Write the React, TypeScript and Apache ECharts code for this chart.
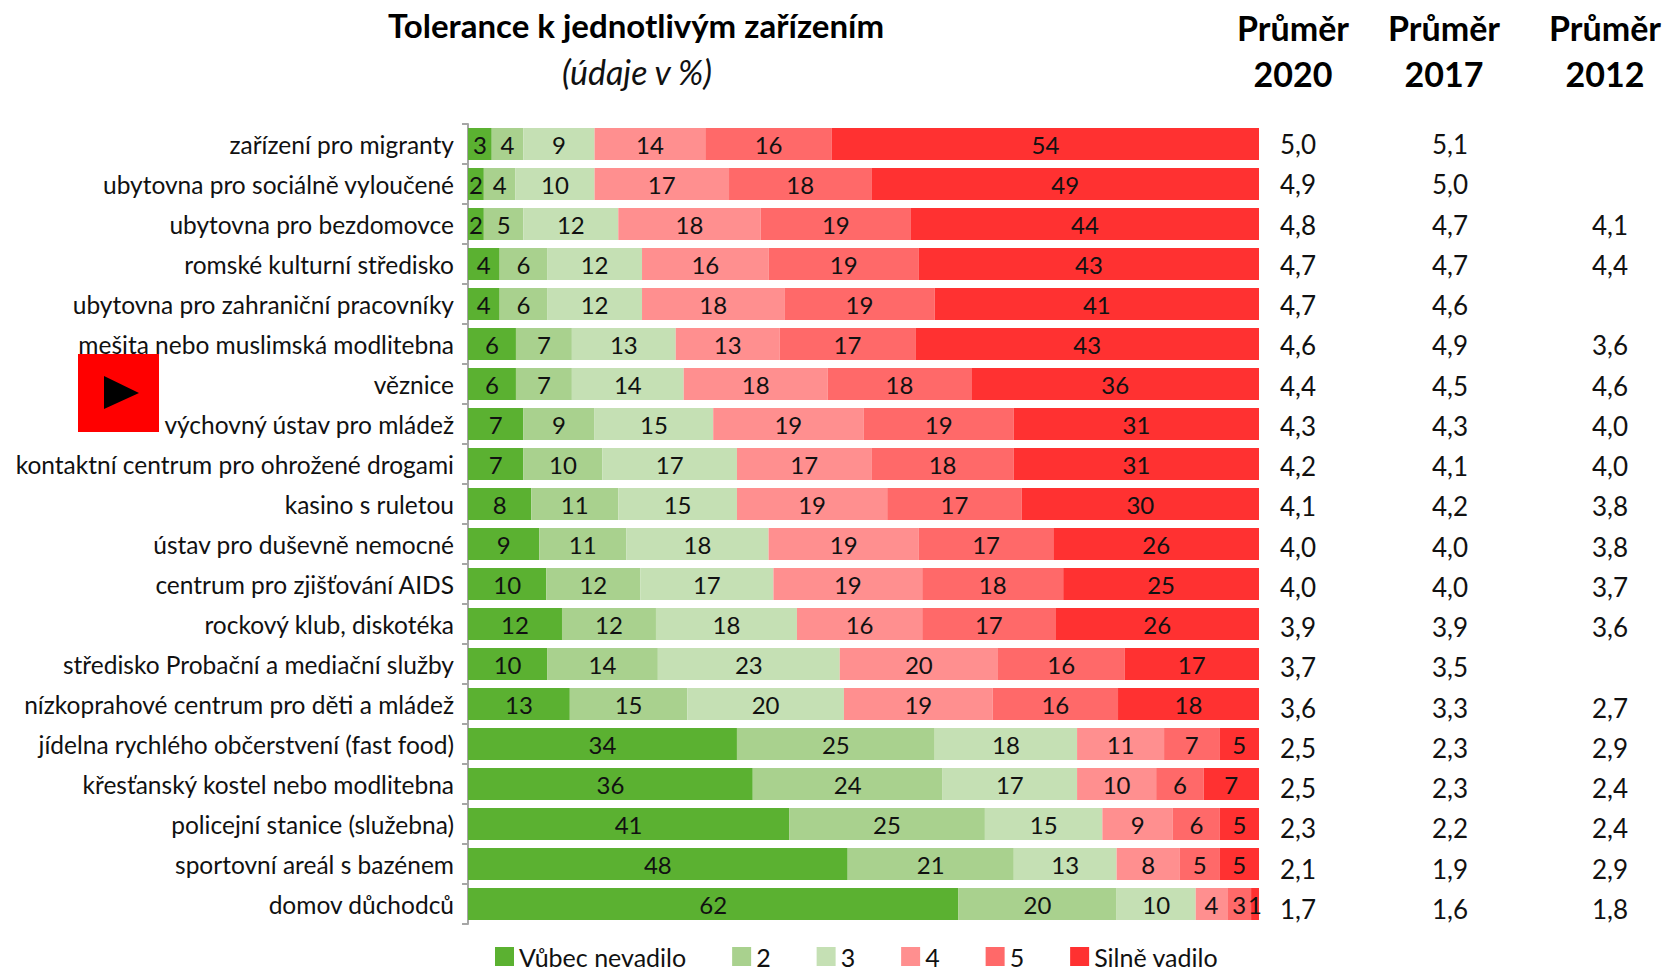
import React, { useEffect, useRef } from "react";
import * as echarts from "echarts";

const FONT = "Lato";

const categories = [
  "zařízení pro migranty",
  "ubytovna pro sociálně vyloučené",
  "ubytovna pro bezdomovce",
  "romské kulturní středisko",
  "ubytovna pro zahraniční pracovníky",
  "mešita nebo muslimská modlitebna",
  "věznice",
  "výchovný ústav pro mládež",
  "kontaktní centrum pro ohrožené drogami",
  "kasino s ruletou",
  "ústav pro duševně nemocné",
  "centrum pro zjišťování AIDS",
  "rockový klub, diskotéka",
  "středisko Probační a mediační služby",
  "nízkoprahové centrum pro děti a mládež",
  "jídelna rychlého občerstvení (fast food)",
  "křesťanský kostel nebo modlitebna",
  "policejní stanice (služebna)",
  "sportovní areál s bazénem",
  "domov důchodců",
];

const seriesNames = ["Vůbec nevadilo", "2", "3", "4", "5", "Silně vadilo"];
const seriesColors = ["#5BB131", "#A9D18E", "#C5E0B4", "#FF8F8F", "#FF6969", "#FF3131"];

const level1 = [3, 2, 2, 4, 4, 6, 6, 7, 7, 8, 9, 10, 12, 10, 13, 34, 36, 41, 48, 62];
const level2 = [4, 4, 5, 6, 6, 7, 7, 9, 10, 11, 11, 12, 12, 14, 15, 25, 24, 25, 21, 20];
const level3 = [9, 10, 12, 12, 12, 13, 14, 15, 17, 15, 18, 17, 18, 23, 20, 18, 17, 15, 13, 10];
const level4 = [14, 17, 18, 16, 18, 13, 18, 19, 17, 19, 19, 19, 16, 20, 19, 11, 10, 9, 8, 4];
const level5 = [16, 18, 19, 19, 19, 17, 18, 19, 18, 17, 17, 18, 17, 16, 16, 7, 6, 6, 5, 3];
const level6 = [54, 49, 44, 43, 41, 43, 36, 31, 31, 30, 26, 25, 26, 17, 18, 5, 7, 5, 5, 1];
const levels = [level1, level2, level3, level4, level5, level6];

const mean2020 = [5.0, 4.9, 4.8, 4.7, 4.7, 4.6, 4.4, 4.3, 4.2, 4.1, 4.0, 4.0, 3.9, 3.7, 3.6, 2.5, 2.5, 2.3, 2.1, 1.7];
const mean2017 = [5.1, 5.0, 4.7, 4.7, 4.6, 4.9, 4.5, 4.3, 4.1, 4.2, 4.0, 4.0, 3.9, 3.5, 3.3, 2.3, 2.3, 2.2, 1.9, 1.6];
const mean2012 = [null, null, 4.1, 4.4, null, 3.6, 4.6, 4.0, 4.0, 3.8, 3.8, 3.7, 3.6, null, 2.7, 2.9, 2.4, 2.4, 2.9, 1.8];

const fmt = (v: number | null) => (v == null ? "" : v.toFixed(1).replace(".", ","));
const rowTotal = (i: number) => levels.reduce((s, l) => s + l[i], 0);

const headerStyle = { fontFamily: FONT, fontWeight: "bold" as const, fontSize: 34, color: "#000" };

function headerTitles() {
  const cols = [
    { x: 1288, year: "2020" },
    { x: 1439, year: "2017" },
    { x: 1600, year: "2012" },
  ];
  return cols.flatMap((c) => [
    { text: "Průměr", left: c.x, top: 5, textAlign: "center", textStyle: headerStyle },
    { text: c.year, left: c.x, top: 51, textAlign: "center", textStyle: headerStyle },
  ]);
}

function meanAxis(values: (number | null)[], offset: number) {
  return {
    type: "category",
    gridIndex: 1,
    position: "right",
    offset,
    inverse: true,
    data: values.map(fmt),
    axisLine: { show: false },
    axisTick: { show: false },
    splitLine: { show: false },
    axisLabel: {
      interval: 0,
      margin: 38,
      align: "center",
      color: "#111",
      fontFamily: FONT,
      fontSize: 26,
    },
  };
}

export default function App() {
  const ref = useRef<HTMLDivElement>(null);

  useEffect(() => {
    const chart = echarts.init(ref.current!, null, { renderer: "svg" });
    chart.setOption({
      animation: false,
      backgroundColor: "#fff",
      title: [
        {
          text: "Tolerance k jednotlivým zařízením",
          left: 631,
          top: 3,
          textAlign: "center",
          textStyle: { fontFamily: FONT, fontWeight: "bold", fontSize: 33, color: "#000" },
        },
        {
          text: "(údaje v %)",
          left: 632,
          top: 49,
          textAlign: "center",
          textStyle: { fontFamily: FONT, fontStyle: "italic", fontWeight: "normal", fontSize: 34, color: "#111" },
        },
        ...headerTitles(),
      ],
      legend: {
        left: 495,
        top: 944,
        padding: 0,
        icon: "rect",
        itemWidth: 19,
        itemHeight: 19,
        itemGap: 46,
        textStyle: { fontFamily: FONT, fontSize: 25, lineHeight: 24, color: "#111" },
        data: seriesNames,
      },
      grid: [
        { left: 468, top: 124, width: 791, height: 800 },
        { left: 1200, top: 124, width: 60, height: 805 },
      ],
      xAxis: [
        { type: "value", min: 0, max: 100, show: false, gridIndex: 0 },
        { type: "value", show: false, gridIndex: 1 },
      ],
      yAxis: [
        {
          type: "category",
          gridIndex: 0,
          inverse: true,
          data: categories,
          axisLine: { show: true, lineStyle: { color: "#A6A6A6", width: 2 } },
          axisTick: { show: true, length: 6, lineStyle: { color: "#A6A6A6", width: 2 } },
          axisLabel: {
            interval: 0,
            margin: 14,
            color: "#111",
            fontFamily: FONT,
            fontSize: 24.5,
          },
        },
        meanAxis(mean2020, 0),
        meanAxis(mean2017, 152),
        meanAxis(mean2012, 312),
      ],
      series: levels.map((vals, k) => ({
        name: seriesNames[k],
        type: "bar",
        stack: "total",
        xAxisIndex: 0,
        yAxisIndex: 0,
        barCategoryGap: "20%",
        itemStyle: { color: seriesColors[k] },
        label: {
          show: true,
          position: "inside",
          color: "#111",
          fontFamily: FONT,
          fontSize: 24,
          formatter: (p: any) => String(vals[p.dataIndex]),
        },
        data: vals.map((v, i) => (v / rowTotal(i)) * 100),
      })),
      graphic: [
        { type: "rect", z: 100, shape: { x: 78, y: 354, width: 81, height: 78 }, style: { fill: "#FF0000" } },
        {
          type: "polygon",
          z: 101,
          shape: { points: [[104, 376], [139, 393], [104, 409]] },
          style: { fill: "#000" },
        },
      ],
    });
    return () => chart.dispose();
  }, []);

  return <div ref={ref} style={{ position: "absolute", left: 0, top: 0, width: 1664, height: 972 }} />;
}
